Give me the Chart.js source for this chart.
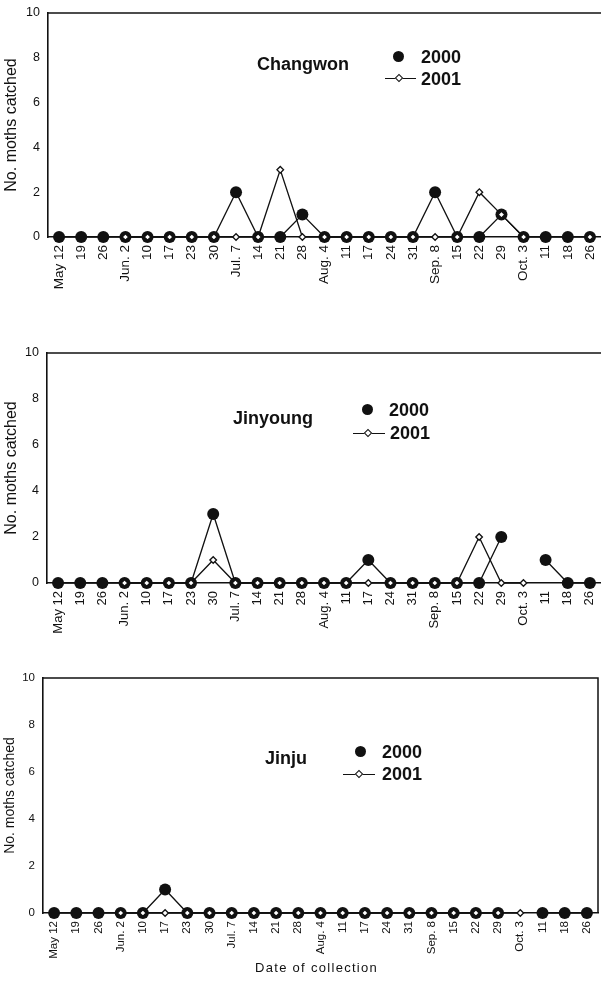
<!DOCTYPE html>
<html>
<head>
<meta charset="utf-8">
<script src="https://cdn.jsdelivr.net/npm/chart.js@4.4.1/dist/chart.umd.min.js"></script>
<style>
  html, body { margin: 0; padding: 0; background: #fff; }
  body { width: 601px; height: 981px; position: relative; overflow: hidden; font-family: Arial, "Liberation Sans", sans-serif; color: #111; }
  canvas { position: absolute; left: 0; }
  .t { position: absolute; font-weight: bold; font-size: 18px; line-height: 18px; white-space: nowrap; }
  .dot { position: absolute; width: 11px; height: 11px; border-radius: 50%; background: #111; }
  .ln { position: absolute; height: 0; border-top: 1.2px solid #111; }
  .dia { position: absolute; width: 4px; height: 4px; background: #fff; border: 1.2px solid #111; transform: rotate(45deg); }
  .xt { position: absolute; font-size: 13px; letter-spacing: 1.3px; white-space: nowrap; }
</style>
</head>
<body>
<canvas id="c1" width="601" height="305" style="top:0"></canvas>
<canvas id="c2" width="601" height="345" style="top:305px"></canvas>
<canvas id="c3" width="601" height="331" style="top:650px"></canvas>

<!-- Panel 1 texts -->
<div class="t" style="left:257px;top:55px">Changwon</div>
<div class="dot" style="left:393px;top:51px"></div>
<div class="t" style="left:421px;top:48px">2000</div>
<div class="ln" style="left:385px;top:78px;width:31px"></div>
<div class="dia" style="left:396px;top:75px"></div>
<div class="t" style="left:421px;top:70px">2001</div>

<!-- Panel 2 texts -->
<div class="t" style="left:233px;top:409px">Jinyoung</div>
<div class="dot" style="left:362px;top:404px"></div>
<div class="t" style="left:389px;top:401px">2000</div>
<div class="ln" style="left:353px;top:433px;width:32px"></div>
<div class="dia" style="left:365px;top:430px"></div>
<div class="t" style="left:390px;top:424px">2001</div>

<!-- Panel 3 texts -->
<div class="t" style="left:265px;top:749px">Jinju</div>
<div class="dot" style="left:355px;top:746px"></div>
<div class="t" style="left:382px;top:743px">2000</div>
<div class="ln" style="left:343px;top:774px;width:32px"></div>
<div class="dia" style="left:356px;top:771px"></div>
<div class="t" style="left:382px;top:765px">2001</div>

<div class="xt" style="left:255px;top:960px">Date of collection</div>

<script>
// ---- data ----
const dates = ["May 12","19","26","Jun. 2","10","17","23","30","Jul. 7","14","21","28","Aug. 4","11","17","24","31","Sep. 8","15","22","29","Oct. 3","11","18","26"];
const yTicks = [0, 2, 4, 6, 8, 10];

const changwon2000 = [0,0,0,0,0,0,0,0,2,0,0,1,0,0,0,0,0,2,0,0,1,0,0,0,0];
const changwon2001 = [null,null,null,0,0,0,0,0,0,0,3,0,0,0,0,0,0,0,0,2,1,0,null,null,0];

const jinyoung2000 = [0,0,0,0,0,0,0,3,0,0,0,0,0,0,1,0,0,0,0,0,2,null,1,0,0];
const jinyoung2001 = [null,null,null,0,0,0,0,1,0,0,0,0,0,0,0,0,0,0,0,2,0,0,null,null,null];

const jinju2000 = [0,0,0,0,0,1,0,0,0,0,0,0,0,0,0,0,0,0,0,0,0,null,0,0,0];
const jinju2001 = [null,null,null,0,0,0,0,0,0,0,0,0,0,0,0,0,0,0,0,0,0,0,null,null,null];

const INK = '#111';

const framePlugin = {
  id: 'frame',
  afterDraw(chart, args, opts) {
    const a = chart.chartArea, ctx = chart.ctx;
    ctx.save();
    ctx.strokeStyle = INK;
    ctx.lineWidth = 1.5;
    ctx.beginPath();
    ctx.moveTo(a.left, a.top);
    ctx.lineTo(a.right, a.top);
    if (opts.right) ctx.lineTo(a.right, a.bottom);
    ctx.stroke();
    ctx.restore();
  }
};

function makeChart(id, d2000, d2001, cfg) {
  return new Chart(document.getElementById(id), {
    type: 'line',
    data: {
      labels: dates,
      datasets: [
        {
          label: '2000', data: d2000, order: 1, clip: false,
          borderColor: INK, borderWidth: 1.3, tension: 0, spanGaps: false,
          pointStyle: 'circle', pointRadius: 6, pointBackgroundColor: INK, pointBorderColor: INK, pointBorderWidth: 0
        },
        {
          label: '2001', data: d2001, order: 0, clip: false,
          borderColor: INK, borderWidth: 1.3, tension: 0, spanGaps: false,
          pointStyle: 'rectRot', pointRadius: 3.3, pointBackgroundColor: '#fff', pointBorderColor: INK, pointBorderWidth: 1.3
        }
      ]
    },
    options: {
      responsive: false, animation: false, devicePixelRatio: 1,
      events: [],
      layout: { autoPadding: false, padding: { top: cfg.top, right: cfg.right, left: 0, bottom: 0 } },
      plugins: { legend: { display: false }, tooltip: { enabled: false }, frame: { right: cfg.frameRight } },
      scales: {
        x: {
          type: 'category', offset: true,
          grid: { display: false, drawTicks: false },
          border: { display: true, color: INK, width: 1.6 },
          ticks: { color: INK, font: { family: 'Arial', size: cfg.xFont }, minRotation: 90, maxRotation: 90, autoSkip: false, padding: 8 },
          afterFit: s => { s.height = cfg.xh; s.paddingLeft = 0; s.paddingRight = 0; }
        },
        y: {
          min: 0, max: 10,
          afterBuildTicks: s => { s.ticks = yTicks.map(v => ({ value: v })); },
          grid: { display: false, drawTicks: false },
          border: { display: true, color: INK, width: 1.6 },
          ticks: { color: INK, font: { family: 'Arial', size: cfg.yFont }, padding: 8 },
          title: { display: true, text: 'No. moths catched', color: INK, font: { family: 'Arial', size: cfg.titleFont }, padding: { top: 2, bottom: 0 } },
          afterFit: s => { s.width = cfg.yw; s.paddingTop = 0; s.paddingBottom = 0; }
        }
      }
    },
    plugins: [framePlugin]
  });
}

makeChart('c1', changwon2000, changwon2001, { top: 13, right: 0, xh: 68, yw: 48, xFont: 13.5, yFont: 12.5, titleFont: 16, frameRight: false });
makeChart('c2', jinyoung2000, jinyoung2001, { top: 48, right: 0, xh: 67, yw: 47, xFont: 13, yFont: 12.5, titleFont: 16, frameRight: false });
makeChart('c3', jinju2000, jinju2001, { top: 28, right: 3, xh: 68, yw: 43, xFont: 11.5, yFont: 11.5, titleFont: 14, frameRight: true });
</script>
</body>
</html>
